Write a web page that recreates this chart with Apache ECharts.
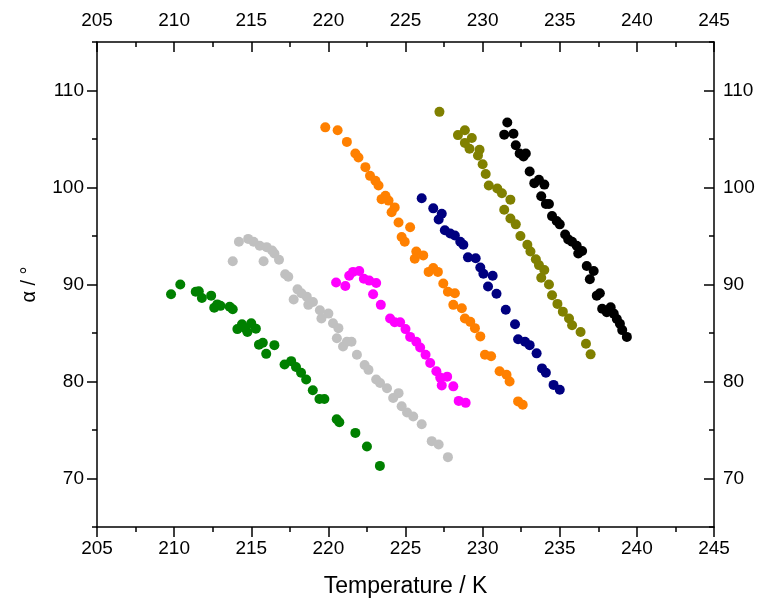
<!DOCTYPE html>
<html>
<head>
<meta charset="utf-8">
<script src="https://cdn.jsdelivr.net/npm/echarts@6/dist/echarts.min.js"></script>
<style>
html,body{margin:0;padding:0;background:#fff;}
#chart{width:759px;height:603px;}
</style>
</head>
<body>
<div id="chart"></div>
<script>
// ---- data: [Temperature / K, alpha / deg] ----
const greenPts = [[209.8,89.0],[210.4,90.0],[211.4,89.25],[211.6,89.3],[211.8,88.6],[212.4,88.85],[212.6,87.6],[212.8,87.95],[213.0,87.8],[213.6,87.7],[213.8,87.45],[214.1,85.4],[214.4,85.9],[214.6,85.5],[214.75,85.1],[215.0,86.0],[215.3,85.45],[215.5,83.8],[215.75,84.0],[215.97,82.85],[216.5,83.75],[217.16,81.75],[217.59,82.1],[217.9,81.5],[218.23,80.9],[218.56,80.2],[218.99,79.1],[219.42,78.2],[219.74,78.2],[220.54,76.1],[220.71,75.8],[221.75,74.7],[222.5,73.3],[223.34,71.3]];
const grayPts = [[213.8,92.4],[214.2,94.4],[214.8,94.7],[215.15,94.4],[215.55,94.0],[215.8,92.4],[216.0,93.85],[216.35,93.5],[216.5,93.2],[216.8,92.55],[217.2,91.05],[217.4,90.8],[217.75,88.45],[218.0,89.5],[218.25,89.1],[218.6,88.75],[218.7,87.9],[219.0,88.2],[219.45,87.35],[219.55,86.5],[220.0,87.0],[220.3,86.0],[220.65,85.5],[220.55,84.45],[220.95,83.6],[221.2,84.1],[221.5,84.1],[221.85,82.75],[222.35,81.7],[222.6,81.2],[223.1,80.2],[223.35,79.85],[223.8,79.3],[224.2,78.3],[224.55,78.8],[224.75,77.45],[225.1,76.8],[225.5,76.4],[226.05,75.6],[226.7,73.85],[227.15,73.5],[227.75,72.2]];
const magentaPts = [[220.5,90.2],[221.1,89.85],[221.35,90.9],[221.6,91.3],[222.0,91.4],[222.3,90.6],[222.65,90.4],[223.1,90.15],[222.9,89.0],[223.4,87.9],[224.0,86.5],[224.3,86.1],[224.65,86.1],[225.0,85.4],[225.3,84.6],[225.7,84.1],[225.95,83.5],[226.3,82.75],[226.6,81.9],[227.0,81.05],[227.25,80.4],[227.7,80.5],[227.35,79.6],[228.1,79.5],[228.45,78.0],[228.9,77.8]];
const orangePts = [[219.8,106.2],[220.6,105.9],[221.2,104.7],[221.75,103.5],[221.95,103.1],[222.4,102.1],[222.7,101.2],[223.05,100.7],[223.25,100.2],[223.45,98.8],[223.7,99.15],[223.9,98.65],[224.1,97.45],[224.3,97.95],[224.55,96.4],[225.3,95.9],[224.75,94.9],[224.95,94.4],[225.7,93.4],[225.6,92.65],[226.15,93.0],[226.5,91.3],[226.8,91.7],[227.1,91.3],[227.45,90.1],[227.75,89.25],[228.2,89.1],[228.1,87.9],[228.65,87.55],[228.85,86.5],[229.2,86.15],[229.5,85.5],[229.85,84.65],[230.15,82.75],[230.55,82.6],[231.1,81.05],[231.55,80.7],[231.75,80.0],[232.3,77.95],[232.6,77.6]];
const navyPts = [[226.05,98.9],[226.8,97.85],[227.35,97.3],[227.15,96.7],[227.55,95.6],[227.9,95.25],[228.2,95.05],[228.55,94.4],[228.75,94.1],[229.05,92.8],[229.55,92.7],[229.85,91.75],[230.05,91.1],[230.65,90.9],[230.35,89.8],[230.9,89.05],[231.5,87.4],[232.1,85.9],[232.3,84.35],[232.75,84.1],[233.05,83.75],[233.5,82.9],[233.85,81.35],[234.1,80.9],[234.6,79.65],[235.0,79.15]];
const olivePts = [[227.2,107.8],[228.4,105.4],[228.85,105.9],[229.3,105.1],[228.85,104.6],[229.15,104.0],[229.8,103.9],[229.7,103.3],[230.0,102.4],[230.2,101.4],[230.4,100.2],[230.95,99.9],[231.25,99.4],[231.8,98.75],[231.4,97.7],[231.8,96.8],[232.15,96.2],[232.45,95.0],[232.9,94.1],[233.1,93.4],[233.45,92.6],[233.65,92.0],[234.0,91.5],[233.8,90.7],[234.3,90.0],[234.5,88.9],[234.85,88.0],[235.2,87.2],[235.6,86.5],[235.8,85.8],[236.35,85.1],[236.7,83.9],[237.0,82.8]];
const blackPts = [[231.6,106.7],[231.4,105.45],[232.0,105.55],[232.15,104.35],[232.4,103.5],[232.65,103.2],[232.8,103.5],[233.05,101.65],[233.35,100.45],[233.65,100.8],[234.0,100.3],[233.8,99.1],[234.1,98.3],[234.3,98.3],[234.5,97.05],[234.8,96.55],[235.0,96.2],[235.35,95.15],[235.55,94.65],[235.8,94.4],[236.1,94.0],[236.2,93.2],[236.45,93.45],[236.75,91.9],[237.2,91.4],[236.95,90.55],[237.4,88.85],[237.6,89.1],[237.75,87.5],[238.05,87.15],[238.3,87.65],[238.5,87.0],[238.7,86.45],[238.9,85.95],[239.05,85.3],[239.35,84.6]];

const xMin = 205, xMax = 245, xStep = 5;
const yMin = 65, yMax = 115;
const yMajor = [70, 80, 90, 100, 110];
const xTitle = 'Temperature / K';
const yTitle = 'α / °';

const seriesDefs = [
  {name:'s1', color:'#008000', data: greenPts},
  {name:'s2', color:'#c0c0c0', data: grayPts},
  {name:'s3', color:'#ff00ff', data: magentaPts},
  {name:'s4', color:'#ff8000', data: orangePts},
  {name:'s5', color:'#000080', data: navyPts},
  {name:'s6', color:'#808000', data: olivePts},
  {name:'s7', color:'#000000', data: blackPts}
];

const FONT = "'Liberation Sans', Arial, sans-serif";
const lineStyle = {color:'#000', width:1.5};
const labelStyle = {color:'#000', fontSize:19, fontFamily:FONT};

const chart = echarts.init(document.getElementById('chart'), null, {renderer:'canvas'});

const xCommon = (pos, inside) => ({
  type:'value', position:pos, min:xMin, max:xMax, interval:xStep,
  axisLine:{show:true, onZero:false, lineStyle},
  axisTick:{show:true, inside, length:10, lineStyle},
  minorTick:{show:true, splitNumber:2, length:5, lineStyle},
  axisLabel:Object.assign({margin:12}, labelStyle),
  splitLine:{show:false}, minorSplitLine:{show:false}
});

chart.setOption({
  animation:false,
  backgroundColor:'#fff',
  grid:{left:97, right:45, top:42, bottom:73, containLabel:false},
  xAxis:[
    Object.assign(xCommon('bottom', false), {
      name:xTitle, nameLocation:'middle', nameGap:48,
      nameTextStyle:{color:'#000', fontSize:23, fontFamily:FONT}
    }),
    xCommon('top', true)
  ],
  yAxis:[
    {
      type:'value', position:'left', min:yMin, max:yMax,
      axisLine:{show:true, onZero:false, lineStyle},
      axisTick:{show:true, inside:false, length:10, lineStyle, customValues:yMajor},
      axisLabel:Object.assign({margin:13, customValues:yMajor}, labelStyle),
      splitLine:{show:false},
      name:yTitle, nameLocation:'middle', nameGap:58, nameRotate:90,
      nameTextStyle:{color:'#000', fontSize:20, fontFamily:FONT}
    },
    {
      type:'value', position:'left', min:yMin, max:yMax, interval:10,
      axisLine:{show:false},
      axisTick:{show:true, inside:false, length:5, lineStyle},
      axisLabel:{show:false}, splitLine:{show:false}
    },
    {
      type:'value', position:'right', min:yMin, max:yMax,
      axisLine:{show:true, onZero:false, lineStyle},
      axisTick:{show:true, inside:true, length:10, lineStyle, customValues:yMajor},
      axisLabel:Object.assign({margin:9, customValues:yMajor}, labelStyle),
      splitLine:{show:false}
    },
    {
      type:'value', position:'right', min:yMin, max:yMax, interval:10,
      axisLine:{show:false},
      axisTick:{show:true, inside:true, length:5, lineStyle},
      axisLabel:{show:false}, splitLine:{show:false}
    }
  ],
  series: seriesDefs.map(s => ({
    type:'scatter', name:s.name, xAxisIndex:0, yAxisIndex:0,
    symbol:'circle', symbolSize:10,
    itemStyle:{color:s.color, opacity:1},
    data:s.data
  }))
});
</script>
</body>
</html>
